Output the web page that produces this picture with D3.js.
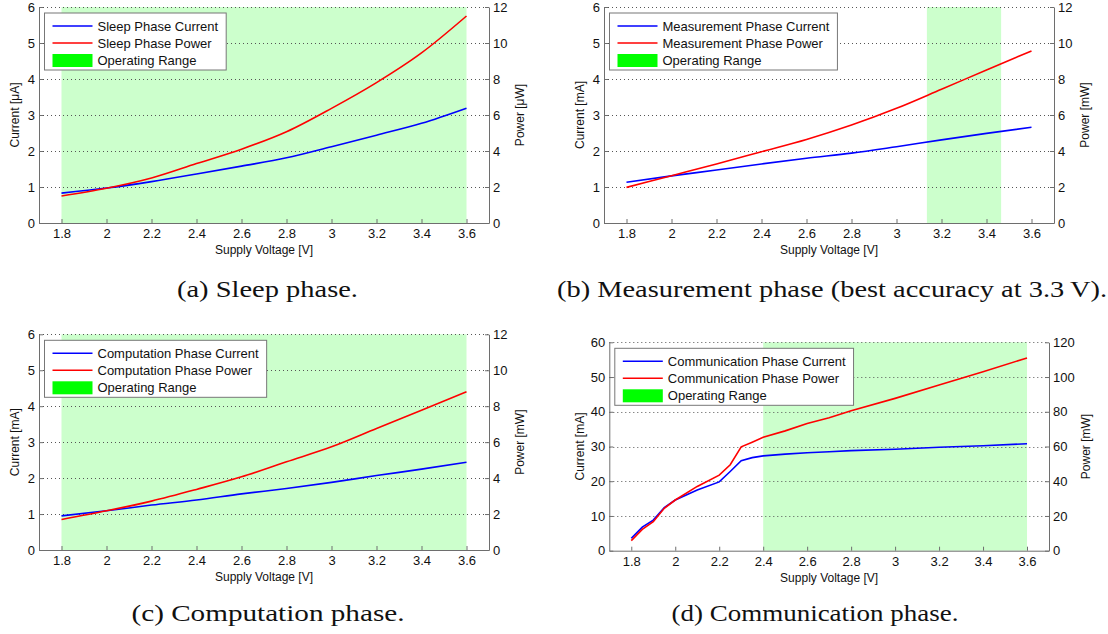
<!DOCTYPE html>
<html>
<head>
<meta charset="utf-8">
<script src="https://cdn.jsdelivr.net/npm/d3@7"></script>
<style>
  body { margin: 0; background: #fff; }
  svg { display: block; }
  .tick text { font-family: "Liberation Sans", Arial, sans-serif; font-size: 13px; fill: #111; }
  .axis path, .axis line { stroke: #6e6e6e; }
</style>
</head>
<body>
<script>
// supply voltage samples
const voltages = [1.8, 2.0, 2.2, 2.4, 2.6, 2.8, 3.0, 3.2, 3.4, 3.6];
const commVoltages = [1.8, 1.85, 1.9, 1.95, 2.0, 2.1, 2.2, 2.25, 2.3, 2.35, 2.4, 2.5, 2.6, 2.7, 2.8, 3.0, 3.2, 3.4, 3.6];

// (a) sleep: current [uA], power [uW]
const sleepCurrent = [0.83, 0.97, 1.15, 1.36, 1.58, 1.81, 2.12, 2.44, 2.77, 3.19];
const sleepPower = [1.5, 1.93, 2.5, 3.3, 4.1, 5.07, 6.37, 7.8, 9.45, 11.5];

// (b) measurement: current [mA], power [mW]
const measCurrent = [1.13, 1.31, 1.47, 1.64, 1.8, 1.94, 2.12, 2.31, 2.49, 2.66];
const measPower = [1.98, 2.63, 3.28, 3.96, 4.64, 5.44, 6.37, 7.43, 8.5, 9.56];

// (c) computation
const compCurrent = [0.95, 1.09, 1.25, 1.39, 1.56, 1.71, 1.88, 2.07, 2.25, 2.44];
const compPower = [1.7, 2.18, 2.72, 3.37, 4.07, 4.91, 5.74, 6.76, 7.78, 8.8];

// (d) communication
const commCurrent = [3.6, 6.8, 8.8, 12.4, 14.6, 17.5, 19.8, 22.8, 25.9, 26.8, 27.3, 27.8, 28.2, 28.5, 28.8, 29.2, 29.8, 30.2, 30.8];
const commPower = [5.8, 12.3, 16.7, 24.4, 29.2, 37, 43.5, 49.5, 59.8, 62.5, 65.3, 69, 73.2, 76.6, 80.6, 87.7, 95.4, 103, 111];

// operating ranges [V]
const sleepRange = [1.8, 3.6];
const measRange = [3.135, 3.465];
const compRange = [1.8, 3.6];
const commRange = [2.4, 3.6];

const xTicks = [1.8, 2, 2.2, 2.4, 2.6, 2.8, 3, 3.2, 3.4, 3.6];
const xTickLabels = ["1.8", "2", "2.2", "2.4", "2.6", "2.8", "3", "3.2", "3.4", "3.6"];
const smallLeftTicks = [0, 1, 2, 3, 4, 5, 6];
const smallRightTicks = [0, 2, 4, 6, 8, 10, 12];
const commLeftTicks = [0, 10, 20, 30, 40, 50, 60];
const commRightTicks = [0, 20, 40, 60, 80, 100, 120];

const captions = ["(a) Sleep phase.", "(b) Measurement phase (best accuracy at 3.3\u2009V).",
  "(c) Computation phase.", "(d) Communication phase."];

const W = 1108, H = 634;
const sans = '"Liberation Sans", Arial, sans-serif';

const svg = d3.select("body").append("svg").attr("width", W).attr("height", H);

const panels = [
  { left: 39, right: 489, top: 7, bottom: 223, volts: voltages, current: sleepCurrent, power: sleepPower,
    range: sleepRange, lTicks: smallLeftTicks, rTicks: smallRightTicks, curve: d3.curveMonotoneX,
    names: ["Sleep Phase Current", "Sleep Phase Power"], yTitle: "Current [\u03bcA]", y2Title: "Power [\u03bcW]",
    lOff: 20, rOff: 35, cap: captions[0], capX: 267.5, capY: 297, capW: 181 },
  { left: 604, right: 1054, top: 7, bottom: 223, volts: voltages, current: measCurrent, power: measPower,
    range: measRange, lTicks: smallLeftTicks, rTicks: smallRightTicks, curve: d3.curveMonotoneX,
    names: ["Measurement Phase Current", "Measurement Phase Power"], yTitle: "Current [mA]", y2Title: "Power [mW]",
    lOff: 20, rOff: 35, cap: captions[1], capX: 832, capY: 297, capW: 550 },
  { left: 39, right: 489, top: 334.3, bottom: 550, volts: voltages, current: compCurrent, power: compPower,
    range: compRange, lTicks: smallLeftTicks, rTicks: smallRightTicks, curve: d3.curveMonotoneX,
    names: ["Computation Phase Current", "Computation Phase Power"], yTitle: "Current [mA]", y2Title: "Power [mW]",
    lOff: 20, rOff: 35, cap: captions[2], capX: 268, capY: 621, capW: 273 },
  { left: 609.3, right: 1049, top: 342.3, bottom: 550.7, volts: commVoltages, current: commCurrent, power: commPower,
    range: commRange, lTicks: commLeftTicks, rTicks: commRightTicks, curve: d3.curveLinear,
    names: ["Communication Phase Current", "Communication Phase Power"], yTitle: "Current [mA]", y2Title: "Power [mW]",
    lOff: 25, rOff: 41, cap: captions[3], capX: 815, capY: 621, capW: 287 }
];

panels.forEach(drawPanel);

function drawPanel(p) {
  const x = d3.scaleLinear().domain([1.7, 3.7]).range([p.left, p.right]);
  const yL = d3.scaleLinear().domain([0, d3.max(p.lTicks)]).range([p.bottom, p.top]);
  const yR = d3.scaleLinear().domain([0, d3.max(p.rTicks)]).range([p.bottom, p.top]);
  const g = svg.append("g");

  // operating range band
  g.append("rect")
    .attr("x", x(p.range[0])).attr("y", p.top)
    .attr("width", x(p.range[1]) - x(p.range[0]))
    .attr("height", p.bottom - p.top)
    .attr("fill", "#ccffcc");

  // dotted horizontal grid
  g.selectAll(".grid")
    .data(p.lTicks.filter(d => d > 0))
    .enter().append("line")
    .attr("x1", p.left).attr("x2", p.right)
    .attr("y1", d => Math.round(yL(d)) + 0.5).attr("y2", d => Math.round(yL(d)) + 0.5)
    .attr("stroke", "#555").attr("stroke-width", 1).attr("stroke-dasharray", "1,3");

  // axes
  g.append("g").attr("class", "axis")
    .attr("transform", `translate(0,${p.bottom})`)
    .call(d3.axisBottom(x).tickValues(xTicks).tickFormat((d, i) => xTickLabels[i])
      .tickSize(-4).tickSizeOuter(0).tickPadding(6));
  g.append("g").attr("class", "axis")
    .attr("transform", `translate(${p.left},0)`)
    .call(d3.axisLeft(yL).tickValues(p.lTicks).tickFormat(d3.format("d"))
      .tickSize(-4).tickSizeOuter(0).tickPadding(4));
  g.append("g").attr("class", "axis")
    .attr("transform", `translate(${p.right},0)`)
    .call(d3.axisRight(yR).tickValues(p.rTicks).tickFormat(d3.format("d"))
      .tickSize(-4).tickSizeOuter(0).tickPadding(4));

  // series
  const curLine = d3.line().x((d, i) => x(p.volts[i])).y(d => yL(d)).curve(p.curve);
  const powLine = d3.line().x((d, i) => x(p.volts[i])).y(d => yR(d)).curve(p.curve);
  g.append("path").attr("d", curLine(p.current))
    .attr("fill", "none").attr("stroke", "#0000ff").attr("stroke-width", 1.6);
  g.append("path").attr("d", powLine(p.power))
    .attr("fill", "none").attr("stroke", "#ff0000").attr("stroke-width", 1.6);

  // axis titles
  const midY = (p.top + p.bottom) / 2;
  g.append("text").text("Supply Voltage [V]")
    .attr("x", (p.left + p.right) / 2).attr("y", p.bottom + 31)
    .attr("text-anchor", "middle").attr("font-family", sans).attr("font-size", 12).attr("fill", "#111");
  g.append("text").text(p.yTitle)
    .attr("transform", `translate(${p.left - p.lOff},${midY}) rotate(-90)`)
    .attr("text-anchor", "middle").attr("font-family", sans).attr("font-size", 12).attr("fill", "#111");
  g.append("text").text(p.y2Title)
    .attr("transform", `translate(${p.right + p.rOff},${midY}) rotate(-90)`)
    .attr("text-anchor", "middle").attr("font-family", sans).attr("font-size", 12).attr("fill", "#111");

  // legend
  const lx = p.left + 5.5, ly = p.top + 6;
  const leg = g.append("g");
  const box = leg.append("rect").attr("x", lx).attr("y", ly).attr("height", 57)
    .attr("fill", "#fff").attr("stroke", "#777").attr("stroke-width", 1);
  const entries = [
    { label: p.names[0], kind: "line", color: "#0000ff" },
    { label: p.names[1], kind: "line", color: "#ff0000" },
    { label: "Operating Range", kind: "patch", color: "#00ff00" }
  ];
  let maxW = 0;
  entries.forEach((e, i) => {
    const ry = ly + 13 + i * 17;
    if (e.kind === "line") {
      leg.append("line").attr("x1", lx + 8).attr("x2", lx + 48).attr("y1", ry).attr("y2", ry)
        .attr("stroke", e.color).attr("stroke-width", 1.6);
    } else {
      leg.append("rect").attr("x", lx + 8).attr("y", ry - 6).attr("width", 40).attr("height", 13)
        .attr("fill", e.color);
    }
    const t = leg.append("text").text(e.label).attr("x", lx + 53).attr("y", ry + 4.5)
      .attr("font-family", sans).attr("font-size", 13).attr("fill", "#111");
    maxW = Math.max(maxW, t.node().getComputedTextLength());
  });
  box.attr("width", maxW + 53 + 8);

  // caption
  svg.append("text").text(p.cap)
    .attr("x", p.capX).attr("y", p.capY)
    .attr("text-anchor", "middle")
    .attr("font-family", '"Liberation Serif", "Times New Roman", serif')
    .attr("font-size", 24).attr("fill", "#111")
    .attr("textLength", p.capW).attr("lengthAdjust", "spacingAndGlyphs");
}
</script>
</body>
</html>
